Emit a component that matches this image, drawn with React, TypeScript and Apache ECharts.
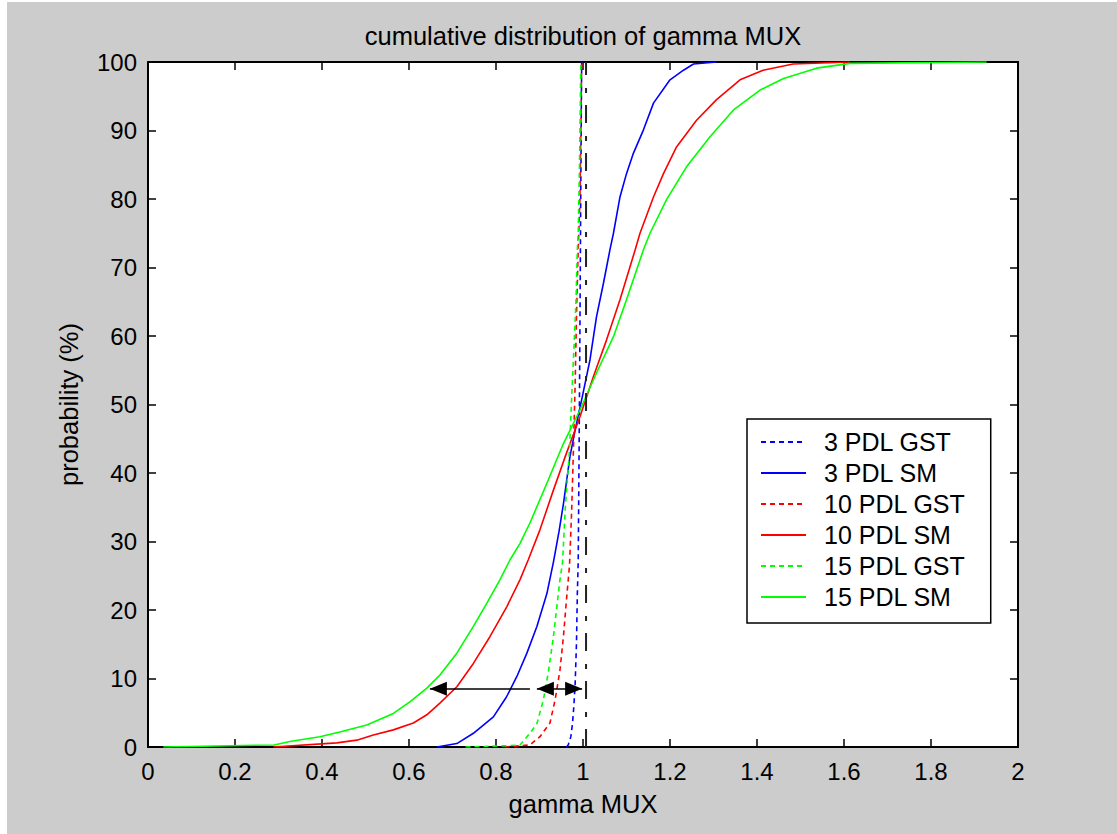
import React, { useEffect, useRef } from 'react';
import * as echarts from 'echarts';

const FONT = '"Liberation Sans", Arial, Helvetica, sans-serif';

const xTickLabels = ['0', '0.2', '0.4', '0.6', '0.8', '1', '1.2', '1.4', '1.6', '1.8', '2'];
const yTickLabels = ['0', '10', '20', '30', '40', '50', '60', '70', '80', '90', '100'];

const seriesNames = ['3 PDL GST', '3 PDL SM', '10 PDL GST', '10 PDL SM', '15 PDL GST', '15 PDL SM'];
const seriesColors = ['#0000ff', '#0000ff', '#ff0000', '#ff0000', '#00ff00', '#00ff00'];
const seriesDashed = [true, false, true, false, true, false];

const gst3: number[][] = [
  [0.962, 0], [0.966, 0.3], [0.972, 1.5], [0.976, 3.5], [0.979, 6], [0.982, 9.3], [0.985, 15.1],
  [0.987, 22.4], [0.989, 27], [0.99, 35], [0.991, 43], [0.992, 52], [0.993, 62], [0.994, 72],
  [0.995, 82], [0.996, 92], [0.997, 100],
];
const sm3: number[][] = [
  [0.664, 0], [0.71, 0.5], [0.748, 2.0], [0.794, 4.4], [0.824, 7.3], [0.848, 10.3], [0.871, 13.7],
  [0.894, 17.6], [0.917, 22.4], [0.932, 27], [0.945, 31.5], [0.955, 35.5], [0.97, 42.4], [0.982, 46.3],
  [0.997, 50.7], [1.016, 56.5], [1.031, 62.8], [1.047, 67.7], [1.062, 72.6], [1.07, 75.0], [1.085, 80.3],
  [1.1, 83.7], [1.116, 86.7], [1.139, 90.1], [1.162, 94.0], [1.2, 97.4], [1.231, 98.8], [1.254, 99.7],
  [1.307, 100],
];
const gst10: number[][] = [
  [0.82, 0], [0.878, 0.3], [0.901, 1.5], [0.924, 3.5], [0.936, 6.9], [0.947, 11.2], [0.955, 16.1],
  [0.962, 21.5], [0.969, 26.5], [0.974, 34.6], [0.978, 43.4], [0.982, 53.1], [0.985, 62.8],
  [0.989, 72.6], [0.993, 80], [0.995, 90], [0.997, 100],
];
const sm10: number[][] = [
  [0.288, 0], [0.434, 0.6], [0.48, 1.0], [0.518, 1.75], [0.564, 2.5], [0.61, 3.5], [0.641, 4.7],
  [0.671, 6.4], [0.71, 8.8], [0.748, 12.2], [0.786, 16.1], [0.825, 20.5], [0.855, 24.4], [0.874, 27.3],
  [0.901, 31.7], [0.932, 37.5], [0.962, 42.9], [0.993, 48.2], [1.024, 54.1], [1.054, 59.4],
  [1.085, 65.3], [1.12, 72.6], [1.131, 75.0], [1.162, 80.3], [1.185, 83.7], [1.215, 87.6],
  [1.261, 91.5], [1.307, 94.5], [1.361, 97.4], [1.414, 98.8], [1.483, 99.7], [1.614, 100],
];
const gst15: number[][] = [
  [0.73, 0], [0.83, 0.2], [0.855, 0.3], [0.878, 2.0], [0.894, 3.4], [0.909, 6.9], [0.92, 10.8],
  [0.932, 16.1], [0.939, 20.0], [0.947, 24.4], [0.953, 27], [0.959, 34.6], [0.969, 43.4],
  [0.974, 51.1], [0.979, 58], [0.984, 65.3], [0.987, 72.6], [0.989, 75], [0.992, 85], [0.994, 95],
  [0.995, 100],
];
const sm15: number[][] = [
  [0.035, 0], [0.29, 0.3], [0.326, 0.8], [0.395, 1.5], [0.441, 2.2], [0.503, 3.2], [0.564, 4.9],
  [0.602, 6.6], [0.641, 8.6], [0.671, 10.5], [0.71, 13.7], [0.748, 17.6], [0.779, 21.0], [0.809, 24.4],
  [0.832, 27.3], [0.855, 29.7], [0.878, 32.7], [0.917, 38.5], [0.955, 44.3], [0.993, 49.2],
  [1.031, 54.6], [1.07, 59.9], [1.1, 65.3], [1.139, 72.6], [1.154, 75.0], [1.192, 79.9], [1.238, 84.7],
  [1.292, 89.1], [1.346, 93.0], [1.407, 95.9], [1.461, 97.6], [1.537, 99.1], [1.614, 99.8], [1.928, 100],
];
const seriesData = [gst3, sm3, gst10, sm10, gst15, sm15];

const refLineX = 1.007;
const refLineY = [0, 100];

const arrowLevel = 8.5;
const arrowFrom = [0.878, 0.966, 0.966];
const arrowTo = [0.648, 0.894, 0.998];

export default function App() {
  const ref = useRef<HTMLDivElement>(null);
  useEffect(() => {
    if (!ref.current) return;
    const chart = echarts.init(ref.current, null, { renderer: 'svg' });

    const axisLineStyle = { color: '#000', width: 2 };
    const tickStyle = { color: '#000', width: 1.5 };
    const labelStyle = { color: '#000', fontSize: 24, fontFamily: FONT };

    const curveSeries = seriesNames.map((name, i) => ({
      name,
      type: 'line',
      data: seriesData[i],
      symbol: 'none',
      showSymbol: false,
      smooth: false,
      xAxisIndex: 0,
      yAxisIndex: 0,
      lineStyle: { color: seriesColors[i], width: 1.6, type: seriesDashed[i] ? [5, 4] : 'solid' },
      itemStyle: { color: seriesColors[i] },
      emphasis: { disabled: true },
      silent: true,
    }));

    const headSize = [14, 17];
    const headOffset = [0, 8.5];

    const option: any = {
      animation: false,
      backgroundColor: '#cccccc',
      title: {
        text: 'cumulative distribution of gamma MUX',
        left: 576,
        top: 21,
        padding: 0,
        textAlign: 'center',
        textStyle: { color: '#000', fontSize: 25.5, fontWeight: 'normal', fontFamily: FONT },
      },
      grid: {
        left: 141,
        top: 60,
        width: 870,
        height: 685,
        show: true,
        backgroundColor: '#ffffff',
        borderWidth: 0,
        containLabel: false,
        outerBoundsMode: 'none',
      },
      legend: {
        data: seriesNames,
        orient: 'vertical',
        left: 740,
        top: 417,
        itemWidth: 45,
        itemHeight: 14,
        itemGap: 6,
        padding: [10.5, 25, 13.5, 13],
        backgroundColor: '#ffffff',
        borderColor: '#000',
        borderWidth: 1.5,
        borderRadius: 0,
        selectedMode: false,
        itemStyle: { opacity: 0 },
        textStyle: { color: '#000', fontSize: 25, lineHeight: 25, fontFamily: FONT, padding: [0, 0, 0, 13] },
      },
      xAxis: [
        {
          type: 'value',
          min: 0,
          max: 2,
          interval: 0.2,
          position: 'bottom',
          gridIndex: 0,
          axisLine: { show: true, onZero: false, lineStyle: axisLineStyle },
          axisTick: { show: true, inside: true, length: 8, lineStyle: tickStyle },
          axisLabel: {
            ...labelStyle,
            margin: 12,
            formatter: (v: number) => xTickLabels[Math.round(v / 0.2)] ?? '',
          },
          splitLine: { show: false },
          name: 'gamma MUX',
          nameLocation: 'middle',
          nameGap: 44,
          nameTextStyle: { color: '#000', fontSize: 25.5, fontFamily: FONT },
        },
        {
          type: 'value',
          min: 0,
          max: 2,
          interval: 0.2,
          position: 'top',
          gridIndex: 0,
          axisLine: { show: true, onZero: false, lineStyle: axisLineStyle },
          axisTick: { show: true, inside: true, length: 8, lineStyle: tickStyle },
          axisLabel: { show: false },
          splitLine: { show: false },
        },
      ],
      yAxis: [
        {
          type: 'value',
          min: 0,
          max: 100,
          interval: 10,
          position: 'left',
          gridIndex: 0,
          axisLine: { show: true, onZero: false, lineStyle: axisLineStyle },
          axisTick: { show: true, inside: true, length: 8, lineStyle: tickStyle },
          axisLabel: {
            ...labelStyle,
            margin: 11,
            formatter: (v: number) => yTickLabels[Math.round(v / 10)] ?? '',
          },
          splitLine: { show: false },
          name: 'probability (%)',
          nameLocation: 'middle',
          nameGap: 66,
          nameRotate: 90,
          nameTextStyle: { color: '#000', fontSize: 25.5, fontFamily: FONT },
        },
        {
          type: 'value',
          min: 0,
          max: 100,
          interval: 10,
          position: 'right',
          gridIndex: 0,
          axisLine: { show: true, onZero: false, lineStyle: axisLineStyle },
          axisTick: { show: true, inside: true, length: 8, lineStyle: tickStyle },
          axisLabel: { show: false },
          splitLine: { show: false },
        },
      ],
      series: [
        ...curveSeries,
        {
          name: 'reference',
          type: 'line',
          data: refLineY.map((y) => [refLineX, y]),
          symbol: 'none',
          xAxisIndex: 0,
          yAxisIndex: 0,
          lineStyle: { color: '#222', width: 2, type: [18, 12, 5, 13] },
          emphasis: { disabled: true },
          silent: true,
          markLine: {
            silent: true,
            animation: false,
            symbol: ['none', 'triangle'],
            symbolSize: headSize,
            symbolOffset: [0, headOffset],
            label: { show: false },
            emphasis: { disabled: true },
            lineStyle: { color: '#000', width: 1.5, type: 'solid' },
            data: arrowFrom.map((f, i) => [
              { coord: [f, arrowLevel], symbol: 'none' },
              { coord: [arrowTo[i], arrowLevel], symbol: 'triangle', symbolSize: headSize, symbolOffset: headOffset },
            ]),
          },
        },
      ],
    };
    chart.setOption(option);
    return () => chart.dispose();
  }, []);

  return (
    <div
      ref={ref}
      style={{ position: 'absolute', left: 7, top: 2, width: 1110, height: 832 }}
    />
  );
}
